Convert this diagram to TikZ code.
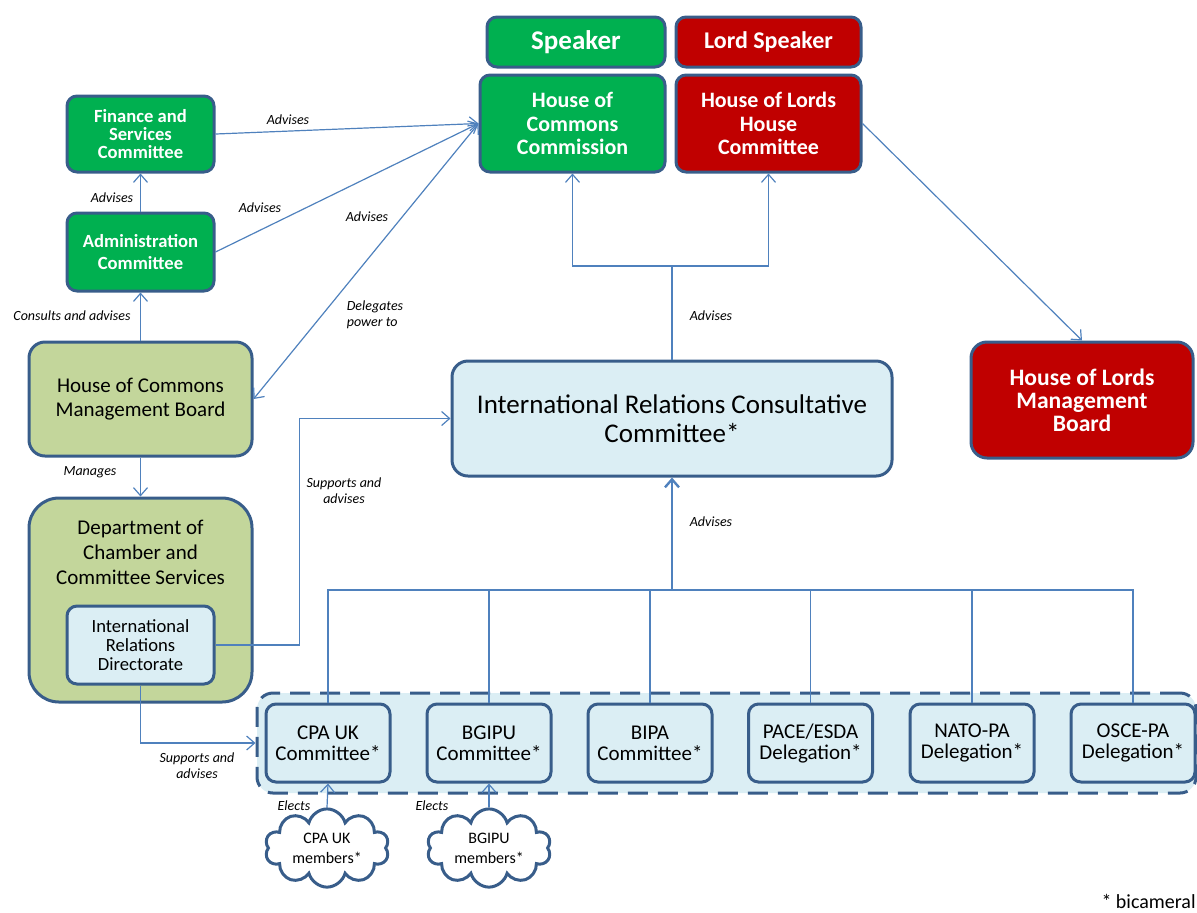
\documentclass[tikz,border=0pt]{standalone}
\usepackage{fontspec}
\setmainfont{Carlito}
\usetikzlibrary{positioning, shapes.symbols, arrows.meta, calc}

\definecolor{frameblue}{RGB}{56,93,138}
\definecolor{linkblue}{RGB}{79,129,189}
\definecolor{commonsgreen}{RGB}{0,176,80}
\definecolor{lordsred}{RGB}{192,0,0}
\definecolor{boardgreen}{RGB}{195,214,155}
\definecolor{paleblue}{RGB}{219,238,244}
\newcommand{\fsz}[2]{\fontsize{#1}{#2}\selectfont}

\tikzset{
  box/.style={draw=frameblue, line width=1.5pt, rounded corners=5pt, align=center, inner sep=0pt},
  commons/.style={box, fill=commonsgreen, text=white},
  lords/.style={box, fill=lordsred, text=white},
  board/.style={box, fill=boardgreen, rounded corners=8pt},
  pale/.style={box, fill=paleblue},
  link/.style={draw=linkblue, line width=0.6pt, -{Straight Barb[length=4pt,width=7pt]}},
  wire/.style={draw=linkblue, line width=0.6pt},
  lbl/.style={font=\itshape\fsz{7}{8}, align=center, inner sep=0pt},
  members/.style={cloud, cloud puffs=10, aspect=1.7, draw=frameblue, line width=1.5pt,
    fill=white, minimum width=62pt, minimum height=37pt, inner sep=0pt, align=center,
    font=\fsz{8}{10}},
  delegation/.style={pale, minimum width=62pt, minimum height=39pt, font=\fsz{10.5}{10.5}}
}

\begin{document}
\begin{tikzpicture}[x=0.5pt, y=-0.5pt]
  \useasboundingbox (0,0) rectangle (1197,912);

  % top level
  \node[commons, minimum width=89pt, minimum height=25pt, font=\bfseries\fsz{13.5}{14}] (speaker) at (576,42) {Speaker};
  \node[lords, minimum width=92.5pt, minimum height=25pt, font=\bfseries\fsz{12}{14}] (lordspeaker) at (768.5,42) {Lord Speaker};
  \node[commons, minimum width=92.5pt, minimum height=48.5pt, font=\bfseries\fsz{11}{11.8}] (hcc) at (572.5,123.5) {House of\\Commons\\Commission};
  \node[lords, minimum width=92.5pt, minimum height=48.5pt, font=\bfseries\fsz{11}{11.8}] (holhc) at (768.5,123.5) {House of Lords\\House\\Committee};

  % commons side
  \node[commons, minimum width=73.5pt, minimum height=38pt, font=\bfseries\fsz{9.3}{9}] (finance) at (140.5,134) {Finance and\\Services\\Committee};
  \node[commons, minimum width=73.5pt, minimum height=39pt, font=\bfseries\fsz{9.3}{11}] (admin) at (140.5,252) {Administration\\Committee};
  \node[board, minimum width=111.5pt, minimum height=57pt, font=\fsz{10.5}{12}] (hcmb) at (140.5,399) {House of Commons\\Management Board};
  \node[board, rounded corners=15pt, minimum width=111.5pt, minimum height=102pt] (dccs) at (140.5,600) {};
  \node[align=center, inner sep=0pt, font=\fsz{10.5}{12.5}] (dccstext) at (140.5,552) {Department of\\Chamber and\\Committee Services};
  \node[pale, minimum width=73.5pt, minimum height=39pt, font=\fsz{9.3}{9.3}] (ird) at (140.5,645) {International\\Relations\\Directorate};

  % consultative committee and lords board
  \node[pale, rounded corners=8pt, minimum width=220pt, minimum height=57.5pt, font=\fsz{13.5}{14.5}] (ircc) at (672,418.5) {International Relations Consultative\\Committee*};
  \node[lords, rounded corners=8pt, minimum width=111pt, minimum height=58pt, font=\bfseries\fsz{11.8}{11.5}] (holmb) at (1082,400) {House of Lords\\Management\\Board};

  % delegations
  \node[pale, dash pattern=on 10pt off 5pt, rounded corners=8pt, minimum width=469.5pt, minimum height=50pt] (group) at (726.5,743) {};
  \node[delegation] (cpa) at (328,743) {CPA UK\\Committee*};
  \node[delegation] (bgipu) at (489,743) {BGIPU\\Committee*};
  \node[delegation] (bipa) at (650,743) {BIPA\\Committee*};
  \node[delegation] (pace) at (810.5,743) {PACE/ESDA\\Delegation*};
  \node[delegation] (nato) at (972,743) {NATO-PA\\Delegation*};
  \node[delegation] (osce) at (1133,743) {OSCE-PA\\Delegation*};

  \node[members] (cpamembers) at (327,848) {CPA UK\\members*};
  \node[members] (bgipumembers) at (489,848) {BGIPU\\members*};

  \node[font=\fsz{10}{12}, anchor=base east, inner sep=0pt] (note) at (1196,908) {* bicameral};

  % connectors
  \draw[link] (finance.east) -- (hcc.west);
  \draw[link] (admin.east) -- (hcc.west);
  \draw[link] (admin.north) -- (finance.south);
  \draw[link] (hcmb.north) -- (admin.south);
  \draw[link, {Straight Barb[length=4pt,width=7pt]}-{Straight Barb[length=4pt,width=7pt]}] (hcmb.east) -- (hcc.west);
  \draw[link] (hcmb.south) -- (dccs.north);
  \draw[link] (ird.east) -- ++(84,0) |- (ircc.west);
  \draw[link] (ird.south) |- (group.west);

  \coordinate (bus) at (672,590);
  \draw[wire] (cpa.north) |- (bus) -| (osce.north);
  \foreach \d in {bgipu, bipa, pace, nato}
    \draw[wire] (\d.north) -- (\d.north |- bus);
  \draw[link, line width=1.2pt] (bus) -- (ircc.south);

  \coordinate (split) at (672,266);
  \draw[wire] (ircc.north) -- (split);
  \draw[link] (split) -| (hcc.south);
  \draw[link] (split) -| (holhc.south);
  \draw[link] (holhc.east) -- (holmb.north);

  \draw[link] (cpamembers.north) -- (cpa.south);
  \draw[link] (bgipumembers.north) -- (bgipu.south);

  % labels
  \node[lbl] (l1) at (288,120) {Advises};
  \node[lbl] (l2) at (260,208) {Advises};
  \node[lbl] (l3) at (112,198) {Advises};
  \node[lbl] (l4) at (72,316) {Consults and advises};
  \node[lbl] (l5) at (367,217) {Advises};
  \node[lbl, align=left] (l6) at (375,315) {Delegates\\power to};
  \node[lbl] (l7) at (90,472) {Manages};
  \node[lbl] (l8) at (344,491) {Supports and\\advises};
  \node[lbl] (l9) at (711,316) {Advises};
  \node[lbl] (l10) at (711,522) {Advises};
  \node[lbl] (l11) at (197,766) {Supports and\\advises};
  \node[lbl] (l12) at (294,806) {Elects};
  \node[lbl] (l13) at (432,806) {Elects};
\end{tikzpicture}
\end{document}
